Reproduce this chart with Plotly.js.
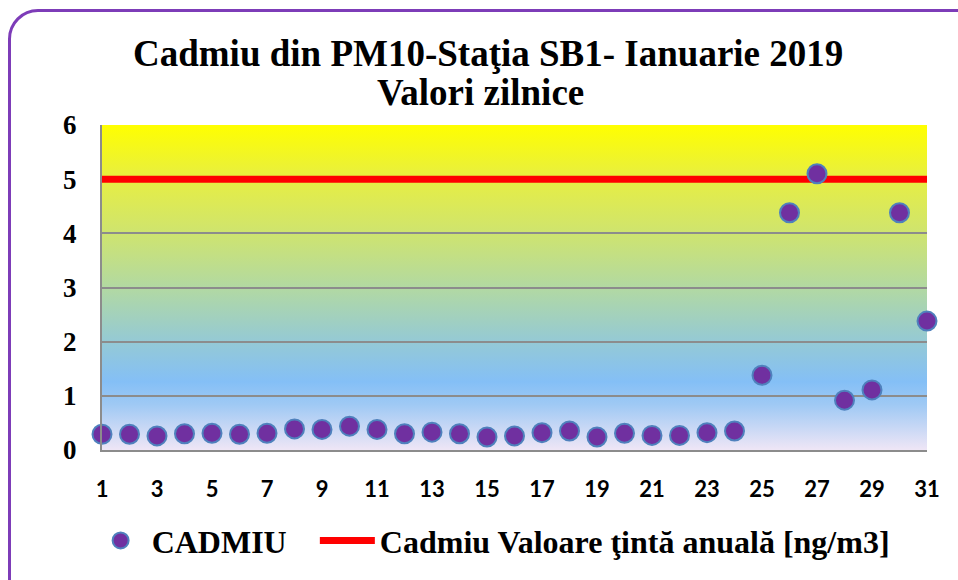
<!DOCTYPE html>
<html>
<head>
<meta charset="utf-8">
<script src="https://cdn.plot.ly/plotly-3.0.1.min.js"></script>
<style>
html,body{margin:0;padding:0;background:#fff;overflow:hidden;}
#wrap{position:relative;width:958px;height:580px;overflow:hidden;}
#chart{position:absolute;left:0;top:0;width:958px;height:580px;}
#frame{position:absolute;left:8px;top:9px;width:1000px;height:620px;border:3.5px solid #7d3cb8;border-radius:30px;pointer-events:none;box-sizing:border-box;}
</style>
</head>
<body>
<div id="wrap"><div id="chart"></div><div id="frame"></div></div>
<script>
// ---- data ----
const days = [1,2,3,4,5,6,7,8,9,10,11,12,13,14,15,16,17,18,19,20,21,22,23,24,25,26,27,28,29,30,31];
const cadmiu = [0.29,0.29,0.26,0.30,0.31,0.29,0.31,0.39,0.38,0.44,0.38,0.30,0.33,0.30,0.24,
                0.26,0.32,0.35,0.24,0.31,0.27,0.27,0.32,0.35,1.38,4.38,5.10,0.92,1.11,4.38,2.38];
const targetDays = [1,31];
const targetValues = [5,5];
const xTickVals = [1,3,5,7,9,11,13,15,17,19,21,23,25,27,29,31];
const yTickVals = [0,1,2,3,4,5,6];
const seriesNames = ['CADMIU','Cadmiu Valoare ţintă anuală [ng/m3]'];
const titleLines = ['Cadmiu din PM10-Staţia SB1- Ianuarie 2019','Valori zilnice'];

// ---- background gradient (plot area) ----
const grad = '<svg xmlns="http://www.w3.org/2000/svg" width="100" height="100" preserveAspectRatio="none" viewBox="0 0 100 100">' +
 '<defs><linearGradient id="g" x1="0" y1="0" x2="0" y2="1">' +
 '<stop offset="0" stop-color="#ffff00"/>' +
 '<stop offset="0.17" stop-color="#e6ee44"/>' +
 '<stop offset="0.33" stop-color="#cfe46e"/>' +
 '<stop offset="0.5" stop-color="#b2d9a2"/>' +
 '<stop offset="0.67" stop-color="#94c9d6"/>' +
 '<stop offset="0.79" stop-color="#84bff6"/>' +
 '<stop offset="0.86" stop-color="#9fc9f4"/>' +
 '<stop offset="1" stop-color="#efe6f6"/>' +
 '</linearGradient></defs><rect x="0" y="0" width="100" height="100" fill="url(#g)"/></svg>';
const gradUri = 'data:image/svg+xml;charset=utf-8,' + encodeURIComponent(grad);

const serif = '"Liberation Serif", serif';
const legendFont = {family: serif, size: 32, color: '#000', weight: 700};

const traces = [
  {
    x: targetDays, y: targetValues, type: 'scatter', mode: 'lines', name: seriesNames[1],
    cliponaxis: false, legend: 'legend2',
    line: {color: '#ff0000', width: 7}
  },
  {
    x: days, y: cadmiu, type: 'scatter', mode: 'markers', name: seriesNames[0],
    cliponaxis: false, legend: 'legend',
    marker: {size: 19, color: '#7030a0', line: {color: '#4f81bd', width: 2}}
  }
];

const layout = {
  width: 958, height: 580,
  margin: {l: 102, r: 31, t: 125, b: 125},
  paper_bgcolor: 'rgba(0,0,0,0)',
  plot_bgcolor: 'rgba(0,0,0,0)',
  font: {family: serif},
  showlegend: true,
  legend: {
    orientation: 'h', x: -0.015, y: -0.279, xanchor: 'left', yanchor: 'middle',
    font: legendFont, itemwidth: 52, bgcolor: 'rgba(0,0,0,0)'
  },
  legend2: {
    orientation: 'h', x: 0.258, y: -0.279, xanchor: 'left', yanchor: 'middle',
    font: legendFont, itemwidth: 55, bgcolor: 'rgba(0,0,0,0)'
  },
  xaxis: {
    range: [1, 31], tickvals: xTickVals, showgrid: false, zeroline: false,
    showline: true, linecolor: '#8c8c8c', linewidth: 2, ticks: '',
    ticklabelstandoff: 19,
    tickfont: {family: 'Lato, "Open Sans", sans-serif', size: 22, color: '#000', weight: 700}
  },
  yaxis: {
    range: [0, 6], tickvals: yTickVals, showgrid: true, gridcolor: '#8c8c8c', gridwidth: 2,
    zeroline: false, showline: true, linecolor: '#8c8c8c', linewidth: 2, ticks: '',
    ticklabelstandoff: 18,
    tickfont: {family: serif, size: 27, color: '#000', weight: 700}
  },
  images: [{
    source: gradUri, xref: 'x', yref: 'y', x: 1, y: 6, sizex: 30, sizey: 6,
    sizing: 'stretch', xanchor: 'left', yanchor: 'top', layer: 'below'
  }],
  annotations: [
    {text: titleLines[0], xref: 'paper', yref: 'paper', x: 0.468, y: 1.221,
     xanchor: 'center', yanchor: 'middle', showarrow: false,
     font: {family: serif, size: 37, color: '#000', weight: 700}},
    {text: titleLines[1], xref: 'paper', yref: 'paper', x: 0.459, y: 1.1,
     xanchor: 'center', yanchor: 'middle', showarrow: false,
     font: {family: serif, size: 37, color: '#000', weight: 700}}
  ]
};

Plotly.newPlot('chart', traces, layout, {displayModeBar: false, staticPlot: true});
</script>
</body>
</html>
